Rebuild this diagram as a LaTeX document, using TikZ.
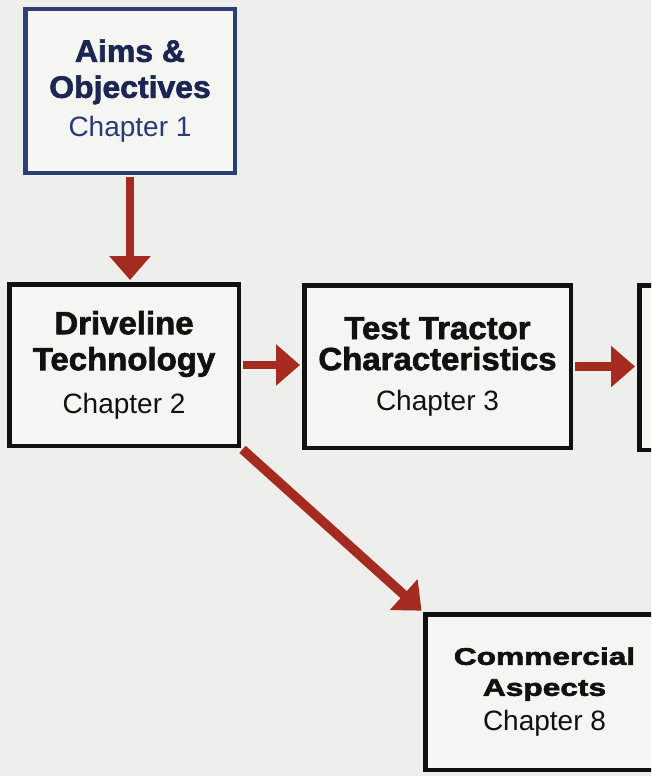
\documentclass[tikz,border=0pt]{standalone}
\usepackage{fontspec}
\setmainfont{Liberation Sans}
\newfontfamily\heavy[FakeBold=2,FakeStretch=1.03]{Liberation Sans Bold}
\newfontfamily\wideheavy[FakeBold=2.5,FakeStretch=1.32]{Liberation Sans Bold}
\usetikzlibrary{arrows.meta,backgrounds}

\definecolor{paper}{HTML}{EEEEEA}
\definecolor{boxfill}{HTML}{F5F5F2}
\definecolor{navy}{HTML}{2C3E78}
\definecolor{navytext}{HTML}{1B2652}
\definecolor{chapblue}{HTML}{2A3A78}
\definecolor{flowred}{HTML}{A52A1F}
\definecolor{ink}{HTML}{111111}

\newcommand{\chapline}[1]{\fontsize{28}{31}\normalfont #1}

\tikzset{
  chapterbox/.style={draw=ink, line width=4.5pt, fill=boxfill, inner sep=0pt,
    align=center, text=ink},
  flow/.style={draw=flowred, line width=8.5pt,
    -{Triangle[length=24pt,width=40pt]}, shorten >=2pt, shorten <=2pt},
}

\begin{document}
\begin{tikzpicture}[x=1pt, y=-1pt]
  \useasboundingbox (0,0) rectangle (651,776);
  \clip (0,0) rectangle (651,776);
  \begin{scope}[on background layer]
    \fill[paper] (0,0) rectangle (651,776);
  \end{scope}

  % chapter boxes
  \node[chapterbox, draw=navy, text=navytext, minimum width=209.5pt,
        minimum height=163.5pt, font=\fontsize{31}{36}\heavy]
    (aims) at (130,91)
    {Aims \&\\Objectives\\[3pt]\chapline{\color{chapblue}Chapter 1}};

  \node[chapterbox, minimum width=229.5pt, minimum height=161.5pt,
        font=\fontsize{32}{36}\heavy]
    (drive) at (124,365)
    {Driveline\\Technology\\[7pt]\chapline{Chapter 2}};

  \node[chapterbox, minimum width=266.5pt, minimum height=162.5pt,
        font=\fontsize{32}{31}\heavy]
    (test) at (437.5,366.5)
    {Test Tractor\\Characteristics\\[9pt]\chapline{Chapter 3}};

  \node[chapterbox, minimum width=266.5pt, minimum height=164.5pt]
    (next) at (772.5,367.5) {};

  \node[chapterbox, minimum width=238.5pt, minimum height=155.5pt,
        font=\fontsize{24}{31}\wideheavy]
    (comm) at (544.5,692)
    {Commercial\\Aspects\\[4pt]\chapline{Chapter 8}};

  % connectors, kept behind the box outlines
  \begin{scope}[on background layer]
    \draw[flow, line width=8pt] (aims.south) -- (aims.south |- drive.north);
    \draw[flow] (drive.east) -- (drive.east -| test.west);
    \draw[flow] (test.east) -- (test.east -| next.west);
    \draw[flow, line width=9.5pt] (drive.south east) -- (comm.north west);
  \end{scope}
\end{tikzpicture}
\end{document}
